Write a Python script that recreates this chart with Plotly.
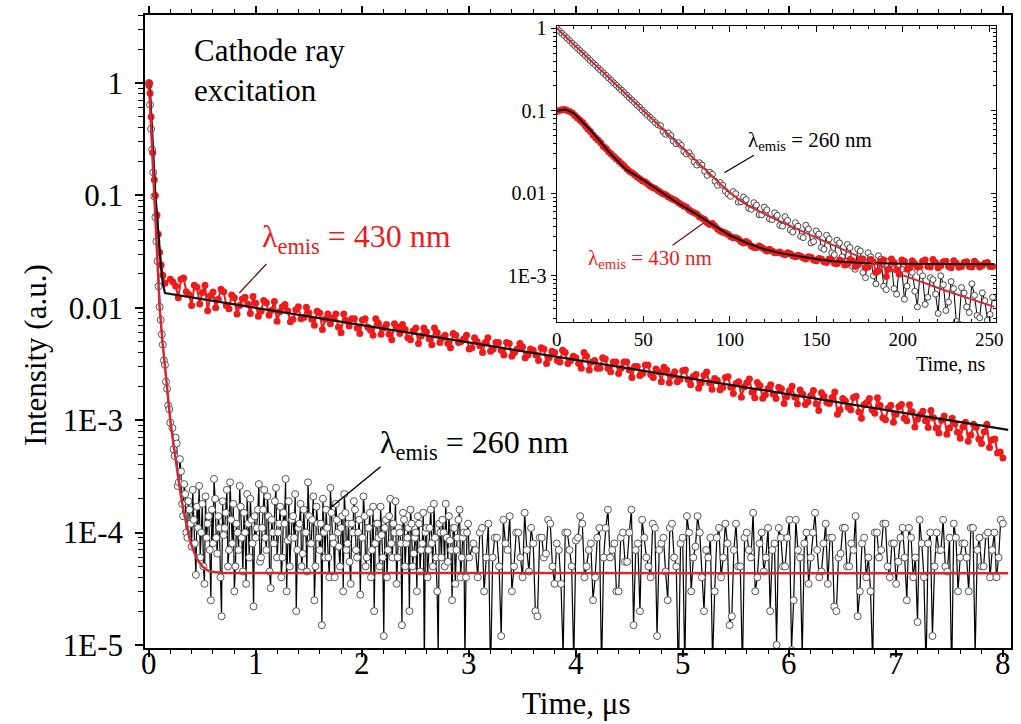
import numpy as np
import plotly.graph_objects as go

# ---------------- main plot data (time in microseconds) ----------------
# 430 nm emission: fast initial drop
RED_T_EARLY = [0, 0.005, 0.01, 0.02, 0.035, 0.05, 0.06, 0.075, 0.087, 0.1, 0.115, 0.13, 0.15]
RED_Y_EARLY = [0.95, 1.0, 0.81, 0.50, 0.24, 0.138, 0.10, 0.067, 0.045, 0.031, 0.024, 0.0195, 0.0165]
# 430 nm tail, t = 0.20 ... 8.00 (step 0.05), units of 1e-3
RED_TAIL_A_E3 = [
    17.9, 15.6, 17.9, 13.9, 10.5, 15.2, 13.7, 9.4, 13.8, 11.9, 13.9, 9.8, 12.3, 10.5, 12.4, 8.9,
    11.0, 9.3, 11.1, 9.5, 7.6, 10.2, 9.4, 7.9, 10.2, 8.2, 9.0, 7.0, 9.0, 7.9, 7.2, 8.8,
    6.0, 7.7, 8.0, 6.6, 7.8, 6.7, 5.7, 7.3, 6.6, 5.8, 7.2, 5.9, 6.4, 5.2, 6.6, 5.6,
    6.1, 4.7, 6.0, 5.4, 4.8, 5.9, 4.9, 5.3, 4.3, 5.4, 4.6, 4.9, 4.1, 4.9, 4.2, 4.9,
    3.7, 4.3, 4.5, 3.8, 4.2, 3.4, 4.3, 3.6, 4.0, 3.3, 4.0, 3.4, 3.6, 2.9, 3.7, 3.3,
    2.9, 3.6, 2.9, 3.3, 2.6, 3.3, 2.8, 3.0, 2.5, 3.1, 2.55, 2.85, 2.2, 2.8, 2.5, 2.2,
    2.75, 2.3, 2.45, 1.92, 2.5, 2.15, 2.35, 1.87, 2.4, 1.96, 2.12, 1.6, 2.15, 1.77, 2.16, 1.57,
    1.91, 1.7, 1.96, 1.41, 1.83, 1.61, 1.86, 1.38, 1.66, 1.4, 1.75, 1.44, 1.59, 1.13, 1.56, 1.3,
    1.59, 1.19, 1.37, 1.56, 1.15, 1.35, 1.01, 1.36, 1.13, 1.38, 0.99, 1.19, 1.02, 1.2, 0.86, 1.05,
    0.77, 1.09, 0.85, 0.93, 0.69, 0.96, 0.74, 0.86, 0.62, 0.92, 0.67, 0.51, 0.46,
]
# 430 nm tail, interleaved samples t = 0.225 ... 7.975 (step 0.05), units of 1e-3
RED_TAIL_B_E3 = [
    17.0, 12.3, 18.4, 13.1, 15.9, 10.8, 15.9, 12.8, 10.0, 14.6, 10.5, 13.0, 8.8, 12.0, 10.8, 12.6,
    8.4, 11.6, 8.6, 11.4, 9.2, 10.7, 7.5, 9.6, 8.0, 10.1, 7.9, 9.3, 6.4, 8.8, 8.1, 6.7,
    8.8, 6.9, 8.0, 5.9, 8.0, 6.3, 8.0, 5.8, 7.1, 5.2, 6.7, 7.1, 5.4, 6.2, 4.8, 6.6,
    5.3, 6.6, 4.9, 5.7, 4.4, 5.7, 5.0, 5.7, 4.4, 5.0, 4.0, 5.4, 4.3, 4.9, 3.8, 4.8,
    4.0, 4.8, 3.6, 4.3, 3.8, 4.4, 3.2, 4.1, 3.4, 4.2, 3.2, 3.7, 3.2, 4.0, 2.8, 3.4,
    2.9, 3.5, 2.7, 3.3, 2.9, 3.3, 2.4, 3.0, 2.6, 3.1, 2.4, 2.7, 2.95, 2.15, 2.7, 2.3,
    2.8, 2.07, 2.55, 2.15, 2.68, 1.88, 2.26, 1.95, 2.43, 1.73, 2.2, 1.97, 2.32, 1.58, 2.02, 1.68,
    2.07, 1.56, 1.9, 1.62, 2.0, 1.39, 1.7, 1.46, 1.84, 1.22, 1.63, 1.41, 1.78, 1.24, 1.48, 1.24,
    1.63, 1.04, 1.44, 1.23, 1.58, 1.05, 1.28, 0.96, 1.32, 1.04, 1.37, 0.87, 1.12, 0.99, 1.22, 0.85,
    1.0, 0.75, 1.04, 0.78, 0.87, 0.65, 0.92, 0.68, 0.79, 0.57, 0.68, 0.52,
]
# fit of the 430 nm curve (black line)
FIT430_T = [0, 0.005, 0.01, 0.02, 0.035, 0.05, 0.06, 0.075, 0.087, 0.1, 0.115, 0.13, 0.15, 8.05]
FIT430_Y = [0.95, 1.0, 0.81, 0.5, 0.24, 0.138, 0.1, 0.067, 0.045, 0.031, 0.022, 0.0165, 0.0135, 8.2e-4]

# 260 nm emission: decay part, t = 0 ... 0.20 (step 0.01)
BLK_Y_EARLY = [1.0, 0.64, 0.39, 0.255, 0.16, 0.098, 0.064, 0.039, 0.026, 0.0155, 0.0102,
               0.0078, 0.0058, 0.0047, 0.0034, 0.0031, 0.0022, 0.0019, 0.00135, 0.00125, 0.00095]
# 260 nm, t = 0.22 ... 3.00 (step 0.02), units of 1e-5
BLK_MID_A_E5 = [
    85, 48, 62, 28, 35, 14, 22, 9, 16, 7.5, 13, 4.2, 11, 6, 18, 3.5, 9, 14, 2.5, 8,
    20, 6.5, 11, 1.8, 9.5, 15, 5, 28, 8, 3, 12, 7, 17, 4.5, 10, 22, 6, 13, 2.2, 9,
    16, 5.5, 11, 24, 7, 14, 3.2, 10, 19, 6, 12, 4, 15, 30, 8.5, 5, 13, 9, 2, 11,
    18, 6.5, 10, 4.5, 14, 8, 21, 5, 12, 7, 1.5, 10, 16, 6, 25, 9, 4, 13, 7.5, 11,
    3, 15, 8, 5.5, 12, 19, 7, 10, 2.8, 9, 14, 6, 11, 4, 17, 8, 12, 5, 9.5, 1.2,
    13, 7, 20, 6, 10, 3.5, 11, 8, 15, 5, 9, 2, 12, 6.5, 10, 14, 4.5, 8, 0.6, 11,
    7, 16, 5, 9, 3, 12, 6, 10, 18, 5.5, 8.5, 2.5, 11, 7, 13, 4, 9, 0.7, 10, 6,
]
# 260 nm, interleaved samples t = 0.23 ... 2.99 (step 0.02), units of 1e-5
BLK_MID_B_E5 = [
    55, 70, 26, 45, 18, 27, 10, 19, 12, 24, 8, 17, 26, 10, 5, 21, 12, 7, 16, 30,
    9, 14, 4, 19, 11, 24, 7, 13, 18, 5, 10, 26, 9, 15, 3.5, 12, 20, 8, 14, 11,
    27, 6, 16, 9, 21, 4.5, 13, 8, 25, 10, 17, 6, 12, 3, 19, 9, 14, 22, 7, 12,
    5, 16, 10, 28, 8, 13, 2.5, 17, 9, 12, 20, 6, 11, 4, 15, 8, 18, 10, 5, 14,
    22, 7, 12, 3.5, 10, 16, 6, 13, 9, 21, 5, 11, 15, 7, 2, 12, 9, 17, 6, 11,
    4, 14, 8, 12, 19, 6, 10, 1.5, 13, 8, 11, 16, 5, 9, 3, 12, 7, 15, 10, 4,
    11, 8, 18, 6, 0.8, 10, 13, 5, 9, 14, 7, 11, 3.5, 9, 16, 6, 10, 4, 12,
]
# 260 nm, t = 3.04 ... 8.00 (step 0.04), units of 1e-5
BLK_LATE_A_E5 = [
    8, 4, 11, 6, 0.5, 9, 5, 13, 7, 3, 10, 6, 15, 4.5, 8, 1.8, 9, 6.5, 12, 3.5,
    7, 0.8, 10, 5, 8.5, 14, 4, 7, 2.5, 9, 0.6, 11, 6, 8, 3, 10, 5.5, 16, 7, 2,
    9, 5, 12, 1.2, 8, 4.5, 11, 6, 0.5, 9, 14, 3, 7.5, 10, 2, 6, 0.7, 9, 4, 12,
    1.5, 7, 5, 0.6, 10, 6, 3, 8, 4.5, 11, 7, 1, 9, 5, 13, 2.5, 7, 0.8, 10, 6,
    15, 4, 8, 3.5, 9, 2, 6.5, 11, 5, 7, 1.8, 8, 4, 3, 10, 6, 12, 5, 8, 3.5,
    9, 6, 11, 4, 1.6, 8, 0.6, 10, 5, 7, 13, 4.5, 0.5, 9, 6, 8, 3, 11, 7, 5,
    9.5, 4, 10, 6, 12,
]
# 260 nm, interleaved samples t = 3.06 ... 7.98 (step 0.04), units of 1e-5
BLK_LATE_B_E5 = [
    7, 10, 3, 12, 6, 9, 1.2, 8, 14, 5, 10, 4, 7, 11, 2, 9, 6, 13, 5, 8,
    3.5, 10, 7, 0.7, 9, 12, 5, 8, 4, 11, 6, 16, 7, 3, 9, 5.5, 10, 1.5, 8, 13,
    6, 4, 11, 7, 9, 2.5, 12, 5, 8, 0.6, 10, 6, 14, 4, 7, 9, 3, 11, 6, 8,
    1.8, 12, 5, 9, 7, 15, 4, 10, 6, 2, 8, 11, 5, 9, 0.9, 13, 6, 8, 3.5, 10,
    7, 4.5, 12, 9, 2.2, 6, 11, 5, 8, 14, 3, 9, 6, 0.7, 10, 7, 12, 4, 8, 5.5,
    11, 2.5, 9, 6, 13, 4, 8, 1.2, 10, 7, 5, 9, 12, 3, 8, 6, 11, 0.8, 9, 5, 10, 7, 4, 13,
]
# fit of the 260 nm curve (red line)
FIT260_T = [0, 0.05, 0.10, 0.125, 0.15, 0.175, 0.20, 0.225, 0.25, 0.275, 0.30, 0.325, 0.35,
            0.375, 0.40, 0.45, 0.50, 0.55, 0.60, 0.70, 8.05]
FIT260_Y = [1, 0.1, 0.0102, 5.2e-3, 2.9e-3, 1.7e-3, 1.0e-3, 6.6e-4, 4.4e-4, 3.0e-4, 2.1e-4,
            1.55e-4, 1.18e-4, 9.3e-5, 7.6e-5, 5.8e-5, 5.0e-5, 4.6e-5, 4.45e-5, 4.37e-5, 4.35e-5]

# ---------------- inset data (time in ns) ----------------
# samples at t = 0, 3, ..., 252 ns
INS_BLK_A = [
    1.0, 0.87, 0.76, 0.66, 0.575, 0.50, 0.437, 0.38, 0.33, 0.288, 0.25, 0.218, 0.19, 0.166,
    0.144, 0.126, 0.11, 0.095, 0.083, 0.072, 0.066, 0.052, 0.05, 0.04, 0.038, 0.030, 0.028,
    0.022, 0.022, 0.0165, 0.017, 0.0125, 0.0125, 0.0098,
    0.0105, 0.0078, 0.0090, 0.0066, 0.0077, 0.0055, 0.0068, 0.0049, 0.0058, 0.0041, 0.0052,
    0.0036, 0.0044, 0.0030, 0.0041, 0.0025, 0.0035, 0.0022, 0.0031, 0.0019, 0.0027, 0.0017,
    0.0024, 0.0013, 0.0021, 0.0011, 0.0019, 0.0010, 0.00175, 0.00075, 0.0015, 0.0007, 0.0013,
    0.00052, 0.0012, 0.00065, 0.0011, 0.00045, 0.00095, 0.0006, 0.0010, 0.00038, 0.00085,
    0.00028, 0.00072, 0.00042, 0.00080, 0.00033, 0.00062, 0.00029, 0.00055,
]
# interleaved samples at t = 1.5, 4.5, ..., 250.5 ns
INS_BLK_B = [
    0.933, 0.813, 0.708, 0.617, 0.537, 0.468, 0.407, 0.355, 0.309, 0.269, 0.234, 0.204, 0.178,
    0.155, 0.135, 0.117, 0.102, 0.089, 0.0776, 0.0676, 0.056, 0.054, 0.043, 0.041, 0.032,
    0.031, 0.024, 0.0235, 0.0185, 0.018, 0.014, 0.0135, 0.0106,
    0.0092, 0.0099, 0.0079, 0.0084, 0.0064, 0.0072, 0.0055, 0.0063, 0.0048, 0.0054, 0.0040,
    0.0047, 0.0034, 0.0040, 0.0029, 0.0037, 0.0026, 0.0032, 0.0021, 0.0028, 0.0018, 0.0025,
    0.0015, 0.0022, 0.0012, 0.0020, 0.00095, 0.0017, 0.0008, 0.0016, 0.00068, 0.0014, 0.0006,
    0.0012, 0.00075, 0.0011, 0.00042, 0.0010, 0.00055, 0.0009, 0.00035, 0.00078, 0.00048,
    0.0007, 0.00026, 0.00062, 0.00036, 0.00058, 0.00031, 0.0005, 0.00034,
]
INS_RED_A = [
    0.098, 0.103, 0.101, 0.094, 0.082, 0.072, 0.060, 0.051, 0.044, 0.037, 0.032, 0.028,
    0.0245, 0.0215, 0.0185, 0.0168, 0.015, 0.0138, 0.0123, 0.0114, 0.0103, 0.0096, 0.0087,
    0.0081, 0.0073, 0.0068, 0.0060, 0.0056, 0.0050, 0.0044, 0.0043, 0.0037, 0.0034, 0.0032,
    0.0029, 0.0028, 0.0025, 0.0025, 0.0022, 0.0023, 0.0021, 0.0021, 0.0019, 0.00195, 0.0018,
    0.00185, 0.0017, 0.00172, 0.0016, 0.00168, 0.00152, 0.0016, 0.00145, 0.00155, 0.0014,
    0.0015, 0.00138, 0.00152, 0.00135, 0.0016, 0.00128, 0.00148, 0.00115, 0.00155, 0.0012,
    0.00145, 0.00105, 0.0015, 0.00125, 0.0014, 0.0013, 0.00155, 0.00128, 0.00145, 0.00132,
    0.0015, 0.00125, 0.00142, 0.0013, 0.00148, 0.00128, 0.0014, 0.00133, 0.00145, 0.0013,
]
INS_RED_B = [
    0.101, 0.104, 0.098, 0.088, 0.077, 0.066, 0.056, 0.047, 0.041, 0.035, 0.030, 0.026, 0.0228,
    0.0198, 0.0178, 0.0158, 0.0142, 0.0131, 0.0118, 0.0108, 0.0099, 0.0091, 0.0084, 0.0077,
    0.0070, 0.0063, 0.0058, 0.0052, 0.0048, 0.0042, 0.0040, 0.0035, 0.0033,
    0.0030, 0.0029, 0.0026, 0.0026, 0.0023, 0.0022, 0.0022, 0.0020, 0.0020, 0.0019, 0.00185,
    0.0019, 0.00175, 0.00178, 0.00165, 0.0017, 0.00155, 0.00162, 0.00148, 0.0016, 0.00142,
    0.00155, 0.00135, 0.00158, 0.0013, 0.0016, 0.00125, 0.00158, 0.0011, 0.0015, 0.00098,
    0.0016, 0.00118, 0.00155, 0.0012, 0.00152, 0.00128, 0.0015, 0.0013, 0.00158, 0.00125,
    0.00148, 0.0013, 0.00152, 0.00127, 0.00145, 0.0013, 0.0015, 0.00128, 0.00142, 0.0013,
]
INS_FIT430_T = [0, 5, 10, 20, 30, 40, 50, 60, 70, 80, 90, 100, 110, 120, 130, 140, 150, 160, 175, 200, 253]
INS_FIT430_Y = [0.1, 0.104, 0.093, 0.057, 0.032, 0.0195, 0.0145, 0.0104, 0.0076, 0.0057, 0.0042,
                0.0031, 0.0025, 0.0021, 0.00187, 0.00172, 0.0016, 0.0015, 0.00144, 0.0014, 0.00138]
INS_FIT260_T = [0, 90, 100, 110, 125, 150, 175, 200, 225, 253]
INS_FIT260_Y = [1, 0.0158, 0.0102, 0.0072, 0.0050, 0.0029, 0.0017, 0.00102, 0.00066, 0.00042]

MAIN_XTICKS = [0, 1, 2, 3, 4, 5, 6, 7, 8]
MAIN_YTICKS = [1, 0.1, 0.01, 1e-3, 1e-4, 1e-5]
MAIN_YLABELS = ["1", "0.1", "0.01", "1E-3", "1E-4", "1E-5"]
INS_YTICKS = [1, 0.1, 0.01, 1e-3]
INS_YLABELS = ["1", "0.1", "0.01", "1E-3"]


def merge(parts):
    pts = []
    for ts, ys in parts:
        pts.extend(zip(ts, ys))
    pts.sort(key=lambda p: p[0])
    return [p[0] for p in pts], [p[1] for p in pts]


red_t, red_y = merge([
    (RED_T_EARLY, RED_Y_EARLY),
    (np.linspace(0.20, 8.00, len(RED_TAIL_A_E3)), [v * 1e-3 for v in RED_TAIL_A_E3]),
    (np.linspace(0.225, 7.975, len(RED_TAIL_B_E3)), [v * 1e-3 for v in RED_TAIL_B_E3]),
])
blk_t, blk_y = merge([
    (np.linspace(0.0, 0.20, len(BLK_Y_EARLY)), BLK_Y_EARLY),
    (np.linspace(0.22, 3.00, len(BLK_MID_A_E5)), [v * 1e-5 for v in BLK_MID_A_E5]),
    (np.linspace(0.23, 2.99, len(BLK_MID_B_E5)), [v * 1e-5 for v in BLK_MID_B_E5]),
    (np.linspace(3.04, 8.00, len(BLK_LATE_A_E5)), [v * 1e-5 for v in BLK_LATE_A_E5]),
    (np.linspace(3.06, 7.98, len(BLK_LATE_B_E5)), [v * 1e-5 for v in BLK_LATE_B_E5]),
])
ins_blk_t, ins_blk_y = merge([
    (np.linspace(0, 252, len(INS_BLK_A)), INS_BLK_A),
    (np.linspace(1.5, 250.5, len(INS_BLK_B)), INS_BLK_B),
])
ins_red_t, ins_red_y = merge([
    (np.linspace(0, 252, len(INS_RED_A)), INS_RED_A),
    (np.linspace(1.5, 250.5, len(INS_RED_B)), INS_RED_B),
])

RED = "#ec1c1c"
FITRED = "#cf2a36"
FONT = "Liberation Serif, Times New Roman, serif"
X_RANGE = [-0.037, 8.076]
INS_Y_RANGE = [-3.56, 0.028]


def minor_log(lo, hi):
    return [k * 10.0 ** e for e in range(lo, hi) for k in range(2, 10)]


fig = go.Figure()

# main plot traces
fig.add_trace(go.Scatter(x=blk_t, y=blk_y, mode="lines+markers",
                         line=dict(color="black", width=1.2),
                         marker=dict(symbol="circle", size=7, color="white",
                                     line=dict(color="#555555", width=1)),
                         xaxis="x", yaxis="y", showlegend=False))
fig.add_trace(go.Scatter(x=red_t, y=red_y, mode="lines+markers",
                         line=dict(color=RED, width=2),
                         marker=dict(size=7, color=RED),
                         xaxis="x", yaxis="y", showlegend=False))
fig.add_trace(go.Scatter(x=FIT430_T, y=FIT430_Y, mode="lines",
                         line=dict(color="#111111", width=2.2),
                         xaxis="x", yaxis="y", showlegend=False))
fig.add_trace(go.Scatter(x=FIT260_T, y=FIT260_Y, mode="lines",
                         line=dict(color=FITRED, width=2.5),
                         xaxis="x", yaxis="y", showlegend=False))
# leader lines (main)
fig.add_trace(go.Scatter(x=[0.846, 1.10], y=[0.01355, 0.0245], mode="lines",
                         line=dict(color="#6a1010", width=1.3),
                         xaxis="x", yaxis="y", showlegend=False))
fig.add_trace(go.Scatter(x=[1.71, 2.17], y=[1.69e-4, 3.85e-4], mode="lines",
                         line=dict(color="black", width=1.5),
                         xaxis="x", yaxis="y", showlegend=False))
# carrier for the tick-only x axis
fig.add_trace(go.Scatter(x=[None], y=[None], mode="lines", xaxis="x4", yaxis="y",
                         showlegend=False, hoverinfo="skip"))

# inset traces
fig.add_trace(go.Scatter(x=ins_blk_t, y=ins_blk_y, mode="lines+markers",
                         line=dict(color="black", width=1),
                         marker=dict(symbol="circle", size=6, color="white",
                                     line=dict(color="#444444", width=1)),
                         xaxis="x2", yaxis="y2", showlegend=False))
fig.add_trace(go.Scatter(x=ins_red_t, y=ins_red_y, mode="lines+markers",
                         line=dict(color=RED, width=2),
                         marker=dict(size=7, color=RED),
                         xaxis="x2", yaxis="y2", showlegend=False))
fig.add_trace(go.Scatter(x=INS_FIT430_T, y=INS_FIT430_Y, mode="lines",
                         line=dict(color="#111111", width=2),
                         xaxis="x2", yaxis="y2", showlegend=False))
fig.add_trace(go.Scatter(x=INS_FIT260_T, y=INS_FIT260_Y, mode="lines",
                         line=dict(color=FITRED, width=2),
                         xaxis="x2", yaxis="y2", showlegend=False))
fig.add_trace(go.Scatter(x=[96.9, 114], y=[0.0178, 0.029], mode="lines",
                         line=dict(color="black", width=1.2),
                         xaxis="x2", yaxis="y2", showlegend=False))
fig.add_trace(go.Scatter(x=[67, 85.1], y=[2.35e-3, 4.4e-3], mode="lines",
                         line=dict(color="#6a1010", width=1.2),
                         xaxis="x2", yaxis="y2", showlegend=False))
fig.add_trace(go.Scatter(x=[None], y=[None], mode="lines", xaxis="x2", yaxis="y3",
                         showlegend=False, hoverinfo="skip"))

axis_common = dict(showgrid=False, zeroline=False, linecolor="black", tickcolor="black")

fig.update_layout(
    width=1021, height=724,
    margin=dict(l=145, r=3, t=15, b=76),
    paper_bgcolor="white", plot_bgcolor="white",
    font=dict(family=FONT, color="black"),
    xaxis=dict(domain=[0, 1], range=X_RANGE, ticks="", showticklabels=False,
               linewidth=1.5, mirror=True, **axis_common),
    xaxis4=dict(overlaying="x", anchor="y", side="bottom", range=X_RANGE, dtick=1, tick0=0,
                ticks="outside", ticklen=8, tickwidth=1.5, showline=False, mirror="ticks",
                showticklabels=False,
                minor=dict(dtick=0.2, ticks="outside", ticklen=5, tickwidth=1.2, tickcolor="black"),
                **axis_common),
    yaxis=dict(domain=[0, 1], type="log", range=[-5.027, 0.605],
               tickmode="array", tickvals=MAIN_YTICKS, ticktext=MAIN_YLABELS,
               ticks="outside", ticklen=8, tickwidth=1.5, linewidth=1.5, mirror=True,
               minor=dict(tickmode="array", tickvals=minor_log(-6, 1), ticks="outside",
                          ticklen=5, tickwidth=1.2, tickcolor="black"),
               tickfont=dict(size=31, family=FONT), ticklabelstandoff=6,
               **axis_common),
    xaxis2=dict(domain=[0.4754, 0.9828], anchor="y2", range=[0, 254], dtick=50, tick0=0,
                ticks="inside", ticklen=6, tickwidth=1.2, linewidth=1.2, mirror="ticks",
                minor=dict(dtick=10, ticks="inside", ticklen=3, tickwidth=1, tickcolor="black"),
                tickfont=dict(size=19, family=FONT),
                **axis_common),
    yaxis2=dict(domain=[0.515, 0.9826], anchor="x2", type="log", range=INS_Y_RANGE,
                tickmode="array", tickvals=INS_YTICKS, ticktext=INS_YLABELS,
                ticks="outside", ticklen=5, tickwidth=1.2, linewidth=1.2, mirror=True,
                minor=dict(tickmode="array", tickvals=minor_log(-5, 1), ticks="outside",
                           ticklen=3, tickwidth=1, tickcolor="black"),
                tickfont=dict(size=20, family=FONT),
                **axis_common),
    yaxis3=dict(overlaying="y2", anchor="x2", side="right", type="log", range=INS_Y_RANGE,
                tickmode="array", tickvals=INS_YTICKS, showticklabels=False,
                ticks="inside", ticklen=5, tickwidth=1.2, showline=False,
                minor=dict(tickmode="array", tickvals=minor_log(-5, 1), ticks="inside",
                           ticklen=3, tickwidth=1, tickcolor="black"),
                **axis_common),
)

ann = [dict(text=str(v), x=v, xref="x", y=-0.0237, yref="paper", xanchor="center",
            yanchor="middle", showarrow=False, font=dict(size=31, family=FONT, color="black"))
       for v in MAIN_XTICKS]
ann += [
    dict(text="Time, μs", xref="paper", yref="paper", x=0.498, y=-0.0869,
         xanchor="center", yanchor="middle", showarrow=False,
         font=dict(size=31, family=FONT, color="black")),
    dict(text="Intensity (a.u.)", xref="paper", yref="paper", x=-0.126, y=0.4629,
         xanchor="center", yanchor="middle", textangle=-90, showarrow=False,
         font=dict(size=31, family=FONT, color="black")),
    dict(text="Cathode ray<br>excitation", xref="paper", yref="paper", x=0.0538, y=0.9747,
         xanchor="left", yanchor="top", align="left", showarrow=False,
         font=dict(size=31, family=FONT, color="black")),
    dict(text="λ<sub>emis</sub> = 430 nm", xref="x", yref="y", x=1.04, y=-1.38,
         xanchor="left", yanchor="middle", showarrow=False,
         font=dict(size=32, family=FONT, color=RED)),
    dict(text="λ<sub>emis</sub> = 260 nm", xref="x", yref="y", x=2.145, y=-3.22,
         xanchor="left", yanchor="middle", showarrow=False,
         font=dict(size=32, family=FONT, color="black")),
    dict(text="λ<sub>emis</sub> = 260 nm", xref="x2", yref="y2", x=109.5, y=-1.36,
         xanchor="left", yanchor="middle", showarrow=False,
         font=dict(size=21, family=FONT, color="black")),
    dict(text="λ<sub>emis</sub> = 430 nm", xref="x2", yref="y2", x=17, y=-2.8,
         xanchor="left", yanchor="middle", showarrow=False,
         font=dict(size=21, family=FONT, color=RED)),
    dict(text="Time, ns", xref="paper", yref="paper", x=0.9737, y=0.449,
         xanchor="right", yanchor="middle", showarrow=False,
         font=dict(size=20, family=FONT, color="black")),
]
fig.update_layout(annotations=ann)

fig.write_html("out.html", config={"displayModeBar": False},
               post_script="document.body.style.margin='0px';")
